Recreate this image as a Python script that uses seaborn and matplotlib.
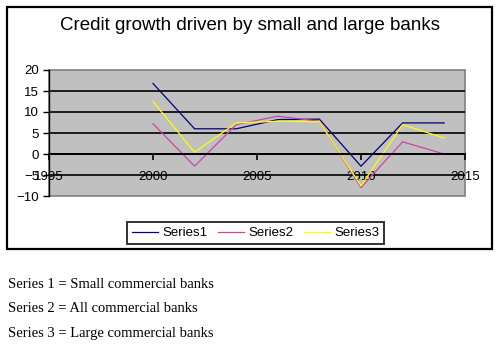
import matplotlib
matplotlib.use("Agg")
import matplotlib.pyplot as plt
import seaborn as sns
import pandas as pd
from matplotlib.patches import Rectangle

years = [2000, 2002, 2004, 2006, 2008, 2010, 2012, 2014]
series1 = [16.8, 6.0, 6.0, 8.2, 8.3, -2.9, 7.4, 7.4]
series2 = [7.2, -2.9, 7.0, 9.0, 7.8, -8.0, 2.9, 0.0]
series3 = [12.5, 0.4, 7.4, 7.8, 7.7, -7.6, 7.0, 3.8]
series_names = ["Series1", "Series2", "Series3"]
x_ticks = [1995, 2000, 2005, 2010, 2015]
y_ticks = [-10, -5, 0, 5, 10, 15, 20]
title = "Credit growth driven by small and large banks"
notes = ["Series 1 = Small commercial banks",
         "Series 2 = All commercial banks",
         "Series 3 = Large commercial banks"]

plt.rcParams['font.family'] = ['Liberation Sans', 'DejaVu Sans']

df = pd.DataFrame({
    "year": years * 3,
    "value": series1 + series2 + series3,
    "series": [series_names[0]] * len(years) + [series_names[1]] * len(years) + [series_names[2]] * len(years),
})

fig = plt.figure(figsize=(5, 3.55), dpi=100)
fig.patch.set_facecolor("white")

# outer chart border
fig.patches.append(Rectangle((7 / 500, 1 - 249 / 355), 485 / 500, 242 / 355,
                             transform=fig.transFigure, fill=False,
                             edgecolor="black", linewidth=1.6))

ax = fig.add_axes([49 / 500, 1 - 196 / 355, 416 / 500, 126 / 355])
ax.set_facecolor("#C0C0C0")

palette = {"Series1": "#000080", "Series2": "#CC44AA", "Series3": "#FFFF00"}
sns.lineplot(data=df, x="year", y="value", hue="series", palette=palette,
             linewidth=0.9, ax=ax, legend=True)

ax.set_xlim(x_ticks[0], x_ticks[-1])
ax.set_ylim(y_ticks[0], y_ticks[-1])
ax.set_xticks(x_ticks)
ax.set_yticks(y_ticks)
ax.set_xlabel("")
ax.set_ylabel("")

ax.grid(axis="y", color="black", linewidth=1.2)
ax.set_axisbelow(True)
ygl = ax.get_ygridlines()
ygl[0].set_visible(False)
ygl[-1].set_visible(False)

for s in ["top", "right"]:
    ax.spines[s].set_visible(False)
ax.spines["bottom"].set_position(("data", 0))
ax.spines["bottom"].set_color("black")
ax.spines["bottom"].set_linewidth(1.3)
ax.spines["left"].set_color("black")
ax.spines["left"].set_linewidth(1.0)
ax.add_patch(Rectangle((0, 0), 1, 1, transform=ax.transAxes, fill=False,
                       edgecolor="#808080", linewidth=1.2, zorder=0.5, clip_on=False))

ax.tick_params(axis="x", direction="out", length=4, width=1.2, pad=8.5,
               labelsize=9.5, colors="black")
ax.tick_params(axis="y", direction="out", length=4, width=1.0, pad=3,
               labelsize=9.5, colors="black")

ax.set_title("")
fig.text(0.5, 1 - 26 / 355, title, ha="center", va="center", fontsize=13.5)

handles, labels = ax.get_legend_handles_labels()
ax.get_legend().remove()
leg = fig.legend(handles, labels, loc="center", ncol=3,
                 bbox_to_anchor=(255.5 / 500, 1 - 233 / 355),
                 bbox_transform=fig.transFigure, frameon=True, fancybox=False,
                 fontsize=9.5, handlelength=2.0, handletextpad=0.3,
                 columnspacing=0.8, borderpad=0.35)
leg.get_frame().set_edgecolor("black")
leg.get_frame().set_linewidth(1.4)

for i, t in enumerate(notes):
    fig.text(8 / 500, 1 - (284 + 25 * i) / 355, t, ha="left", va="center",
             fontsize=10.5, family="Liberation Serif")

fig.savefig("out.png", dpi=100)
